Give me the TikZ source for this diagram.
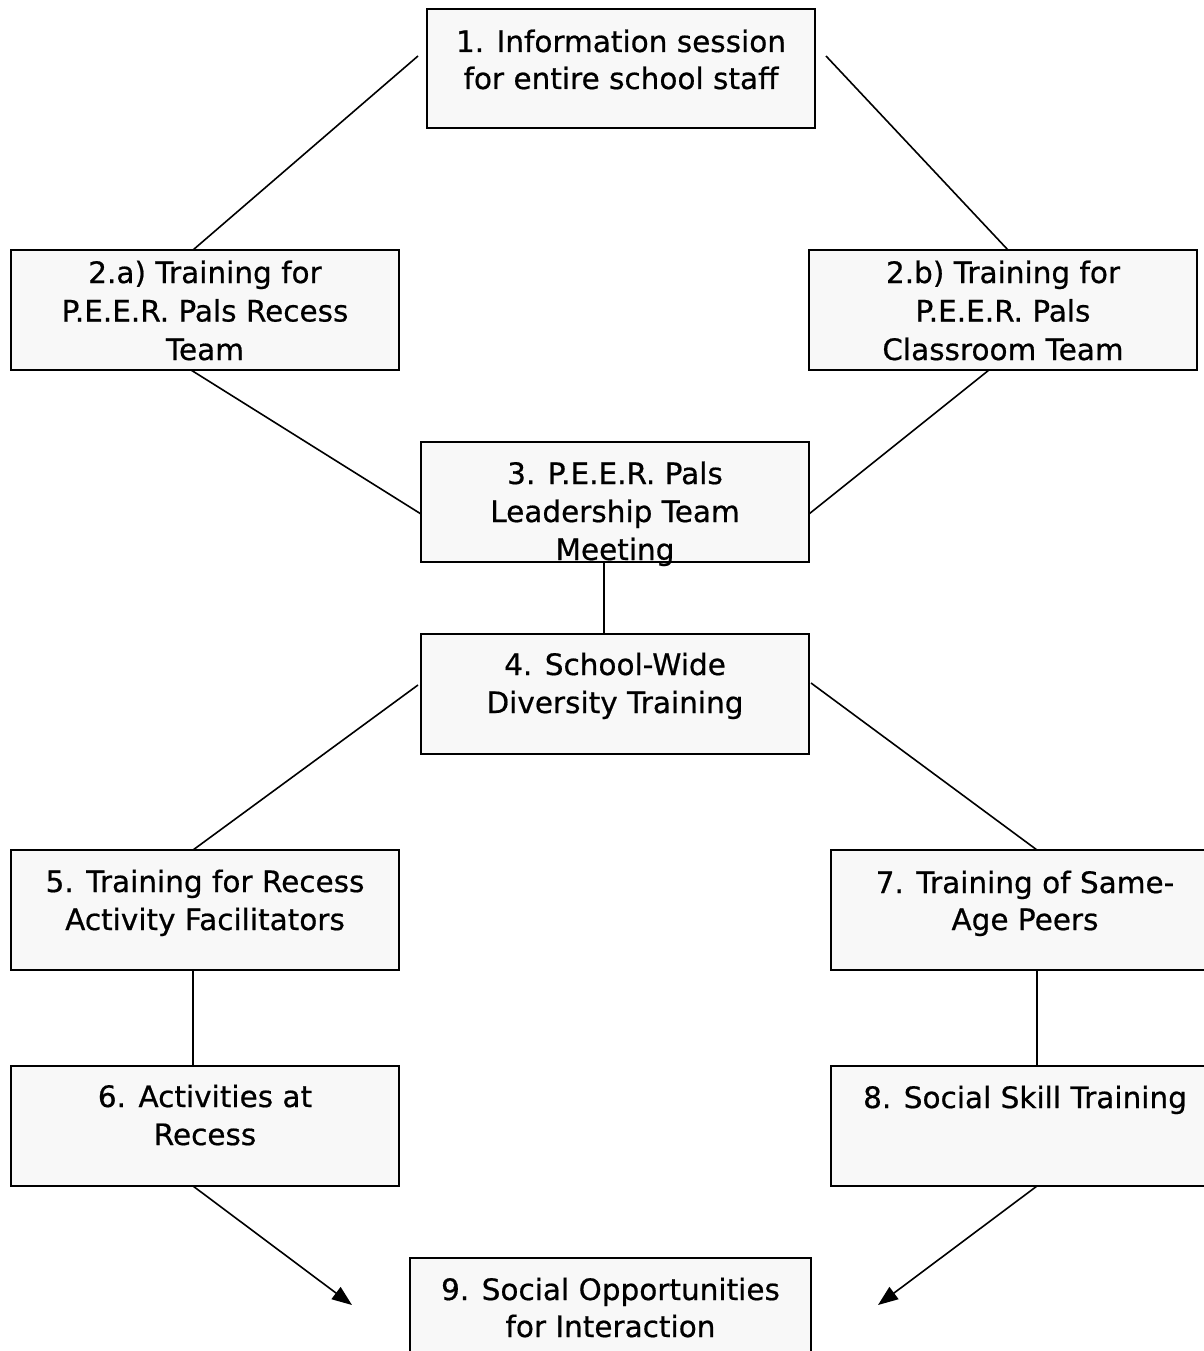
\documentclass[tikz,border=0pt]{standalone}
\usepackage{fontspec}
\setmainfont{DejaVu Sans}[FakeBold=0.6]
\usetikzlibrary{arrows.meta,calc}
\definecolor{boxfill}{HTML}{F8F8F8}
\newcommand{\bt}[5]{\parbox[t][#2][t]{#1}{\centering\fontsize{29.5pt}{#4}\selectfont\rule{0pt}{#3}#5}}
\tikzset{
  stagebox/.style={draw=black, line width=2.6pt, fill=boxfill, inner sep=0pt, outer sep=0pt, anchor=north west},
  link/.style={draw=black, line width=1.6pt},
  flow/.style={link, -{Triangle[length=20pt,width=15pt]}}
}
\begin{document}
\begin{tikzpicture}[x=1pt,y=-1pt]
\useasboundingbox (0,0) rectangle (1203,1351);
\fill[white] (0,0) rectangle (1203,1351);

\node[stagebox] (b1)  at (427,9)    {\bt{388pt}{119pt}{43pt}{37pt}{1. Information session\\for entire school staff}};
\node[stagebox] (b2a) at (11,250)   {\bt{388pt}{120pt}{33pt}{38.5pt}{2.a) Training for\\P.E.E.R. Pals Recess\\Team}};
\node[stagebox] (b2b) at (809,250)  {\bt{388pt}{120pt}{33pt}{38.5pt}{2.b) Training for\\P.E.E.R. Pals\\Classroom Team}};
\node[stagebox] (b3)  at (421,442)  {\bt{388pt}{120pt}{42pt}{38pt}{3. P.E.E.R. Pals\\Leadership Team\\Meeting}};
\node[stagebox] (b4)  at (421,634)  {\bt{388pt}{120pt}{41pt}{38pt}{4. School-Wide\\Diversity Training}};
\node[stagebox] (b5)  at (11,850)   {\bt{388pt}{120pt}{42pt}{38pt}{5. Training for Recess\\Activity Facilitators}};
\node[stagebox] (b6)  at (11,1066)  {\bt{388pt}{120pt}{41pt}{38pt}{6. Activities at\\Recess}};
\node[stagebox] (b7)  at (831,850)  {\bt{388pt}{120pt}{43pt}{37pt}{7. Training of Same-\\Age Peers}};
\node[stagebox] (b8)  at (831,1066) {\bt{388pt}{120pt}{42pt}{38pt}{8. Social Skill Training}};
\node[stagebox] (b9)  at (410,1258) {\bt{401pt}{120pt}{42pt}{37pt}{9. Social Opportunities\\for Interaction}};

\draw[link] ($(b1.north west)+(-9,47)$) -- ($(b2a.north west)+(182,0)$);
\draw[link] ($(b1.north east)+(11,47)$) -- ($(b2b.north west)+(199,0)$);
\draw[link] ($(b2a.south west)+(180,0)$) -- ($(b3.north west)+(0,72)$);
\draw[link] ($(b2b.south west)+(180,0)$) -- ($(b3.north east)+(0,72)$);
\draw[link] ($(b3.south)+(-11,0)$) -- ($(b4.north)+(-11,0)$);
\draw[link] ($(b4.north west)+(-3,51)$) -- ($(b5.north west)+(182,0)$);
\draw[link] ($(b4.north east)+(2,49)$) -- ($(b7.north west)+(206,0)$);
\draw[link] ($(b5.south west)+(182,0)$) -- ($(b6.north west)+(182,0)$);
\draw[link] ($(b7.south west)+(206,0)$) -- ($(b8.north west)+(206,0)$);
\draw[flow] ($(b6.south west)+(182,0)$) -- ($(b9.north west)+(-58,47)$);
\draw[flow] ($(b8.south west)+(206,0)$) -- ($(b9.north east)+(67,47)$);
\end{tikzpicture}
\end{document}
